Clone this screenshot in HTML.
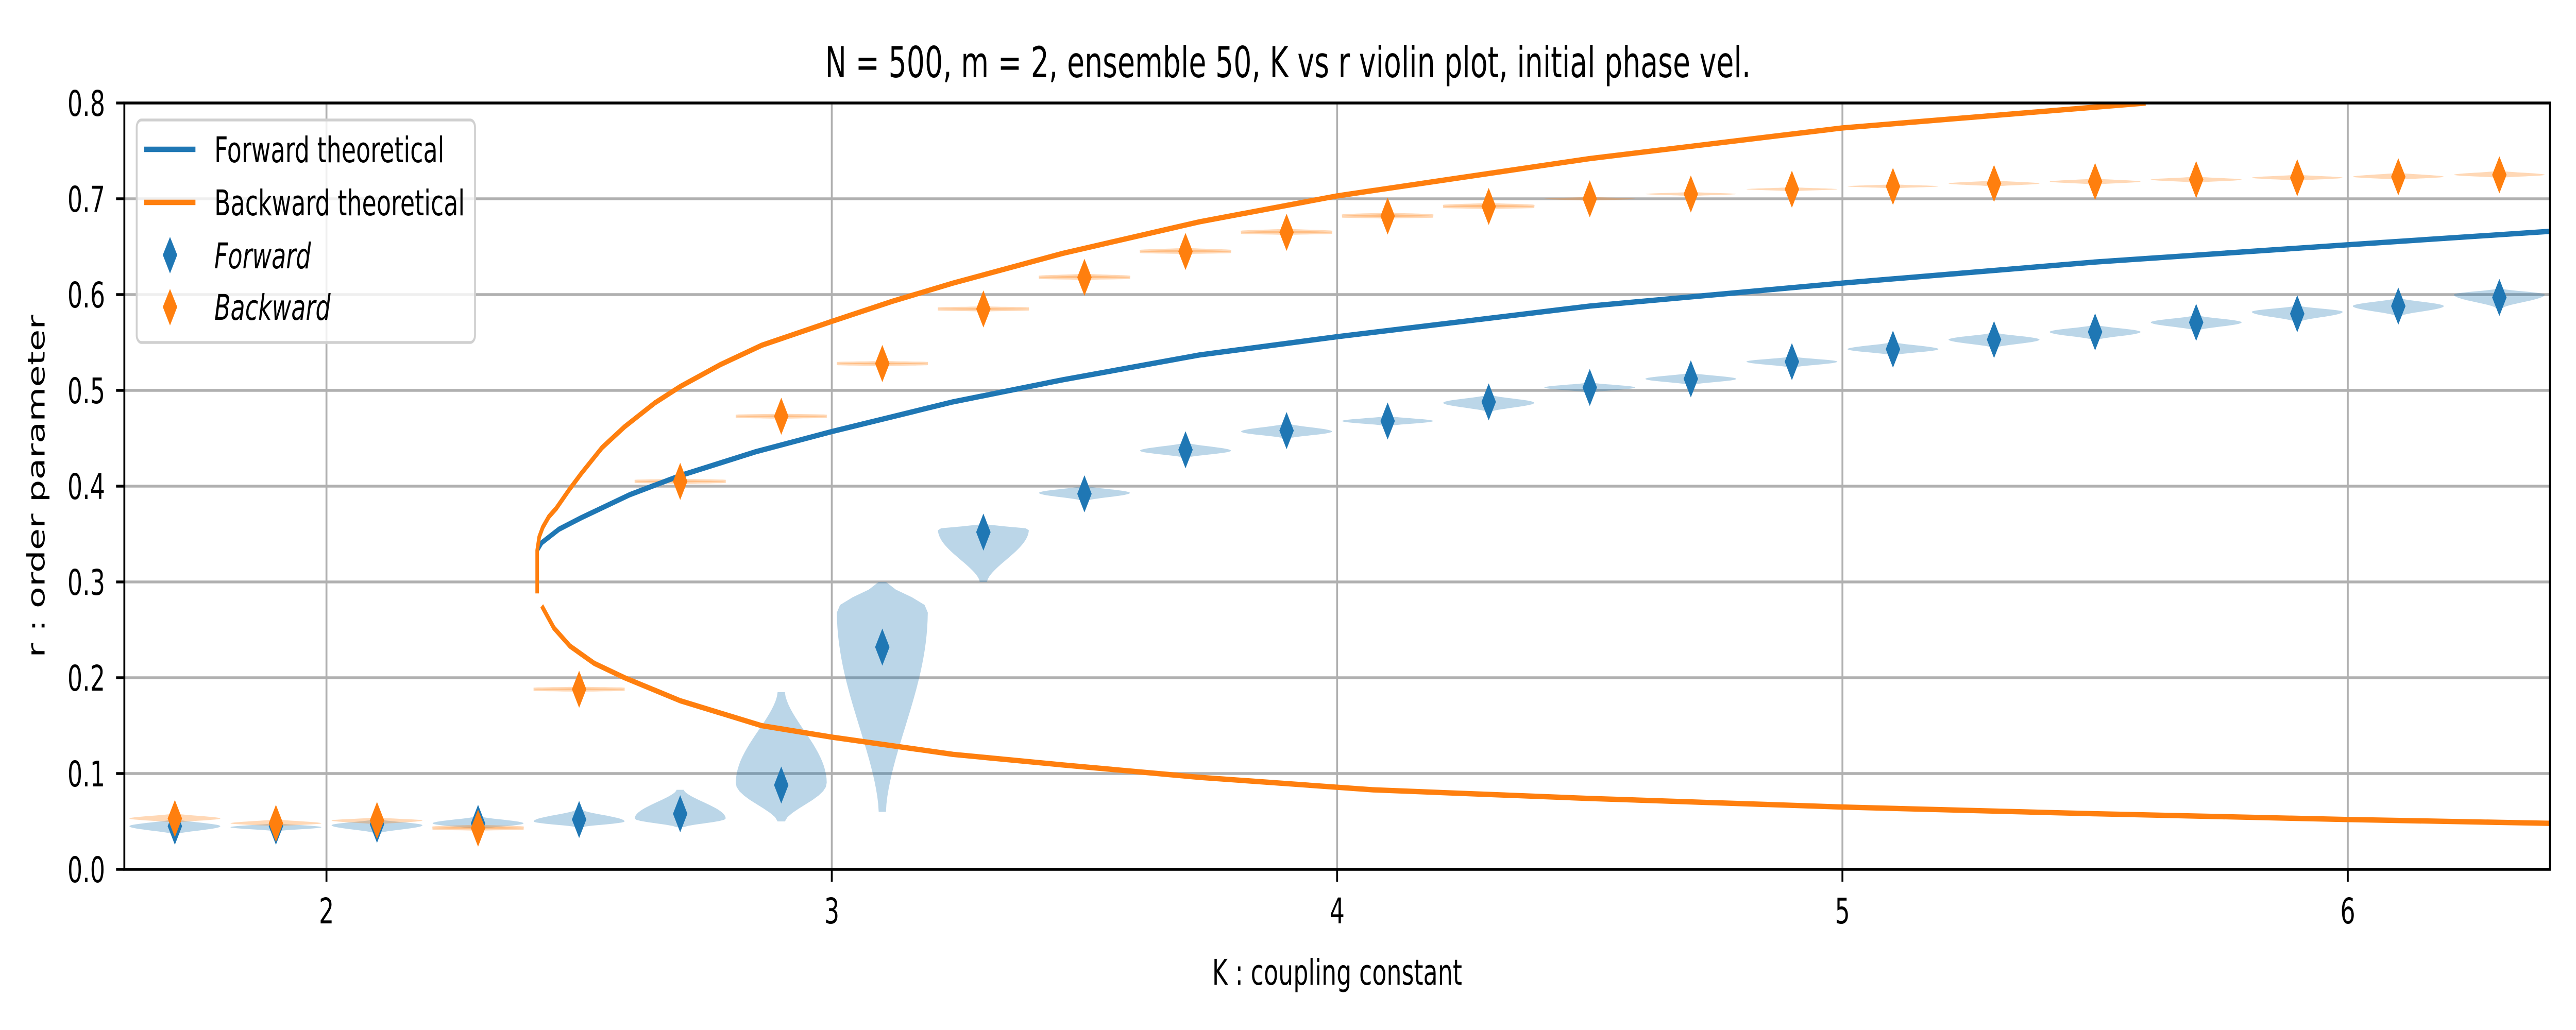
<!DOCTYPE html>
<html><head><meta charset="utf-8"><style>
html,body{margin:0;padding:0;background:#fff;width:100%;height:100%;overflow:hidden;}
svg{display:block;width:100vw;height:100vh;font-family:"DejaVu Sans","Liberation Sans",sans-serif;}
</style></head><body>
<svg id="chart" viewBox="0 0 7500 2000" preserveAspectRatio="none" xmlns="http://www.w3.org/2000/svg">
<rect width="7500" height="2000" fill="#fff"/>
<g id="grid"></g>
<g id="violins"></g>
<g id="curves"></g>
<g id="markers"></g>
<g id="axes"></g>
<text x="3750" y="150" font-size="83" text-anchor="middle">N = 500, m = 2, ensemble 50, K vs r violin plot, initial phase vel.</text>
<text x="3893" y="1912" font-size="69" text-anchor="middle">K : coupling constant</text>
<text x="0" y="0" font-size="69" text-anchor="middle" transform="translate(130,944) rotate(-90)">r : order parameter</text>
<g id="legend">
<rect x="398" y="233" width="985" height="432" rx="14" fill="#fff" fill-opacity="0.8" stroke="#d0d0d0" stroke-width="5.5"/>
<line x1="420" y1="290" x2="569" y2="290" stroke="#1f77b4" stroke-width="10.4"/>
<text x="624" y="315" font-size="69">Forward theoretical</text>
<line x1="420" y1="393" x2="569" y2="393" stroke="#ff7f0e" stroke-width="10.4"/>
<text x="624" y="418" font-size="69">Backward theoretical</text>
<path d="M495,460 L516,495 L495,531 L474,495 Z" fill="#1f77b4"/>
<text x="624" y="521" font-size="69" font-style="italic">Forward</text>
<path d="M495,561 L516,596 L495,632 L474,596 Z" fill="#ff7f0e"/>
<text x="624" y="621" font-size="69" font-style="italic">Backward</text>
</g>
</svg>
<script>
const xTicks = [2, 3, 4, 5, 6];
const yTicks = [0.0, 0.1, 0.2, 0.3, 0.4, 0.5, 0.6, 0.7, 0.8];
const yTickLabels = ["0.0","0.1","0.2","0.3","0.4","0.5","0.6","0.7","0.8"];
const kValues = [1.7,1.9,2.1,2.3,2.5,2.7,2.9,3.1,3.3,3.5,3.7,3.9,4.1,4.3,4.5,4.7,4.9,5.1,5.3,5.5,5.7,5.9,6.1,6.3];
const forwardMean = [0.045,0.045,0.047,0.048,0.052,0.058,0.088,0.232,0.352,0.392,0.438,0.458,0.468,0.488,0.503,0.512,0.530,0.543,0.553,0.561,0.571,0.580,0.588,0.597];
const forwardLo = [0.037,0.040,0.038,0.042,0.044,0.044,0.050,0.060,0.300,0.385,0.430,0.450,0.463,0.478,0.498,0.506,0.524,0.537,0.545,0.553,0.563,0.572,0.578,0.586];
const forwardHi = [0.052,0.048,0.052,0.055,0.062,0.083,0.185,0.300,0.360,0.400,0.445,0.465,0.473,0.495,0.508,0.518,0.535,0.550,0.560,0.568,0.578,0.588,0.596,0.606];
const forwardPeak = [0.045,0.044,0.046,0.048,0.050,0.053,0.090,0.270,0.355,0.393,0.437,0.457,0.468,0.487,0.503,0.512,0.530,0.543,0.553,0.561,0.571,0.582,0.588,0.600];
const backwardMean = [0.053,0.048,0.051,0.043,0.188,0.405,0.473,0.528,0.585,0.618,0.645,0.665,0.682,0.692,0.700,0.705,0.710,0.713,0.716,0.718,0.720,0.722,0.723,0.725];
const backwardLo = [0.049,0.045,0.047,0.042,0.187,0.404,0.472,0.527,0.584,0.617,0.644,0.664,0.681,0.691,0.698,0.703,0.708,0.711,0.713,0.715,0.717,0.719,0.720,0.722];
const backwardHi = [0.058,0.052,0.054,0.045,0.189,0.406,0.474,0.529,0.586,0.620,0.647,0.667,0.684,0.694,0.702,0.707,0.712,0.715,0.719,0.721,0.723,0.725,0.727,0.729];
const forwardTheoryK = [2.417,2.426,2.46,2.504,2.60,2.70,2.85,3.0,3.24,3.457,3.728,4.0,4.5,5.0,5.5,6.0,6.4];
const forwardTheoryR = [0.333,0.341,0.355,0.367,0.391,0.411,0.436,0.457,0.488,0.511,0.537,0.556,0.588,0.612,0.634,0.652,0.666];
const backwardUpperK = [2.417,2.417,2.421,2.428,2.44,2.455,2.48,2.504,2.545,2.59,2.65,2.70,2.78,2.861,3.0,3.12,3.24,3.457,3.728,4.0,4.5,5.0,5.6];
const backwardUpperR = [0.288,0.333,0.347,0.357,0.368,0.377,0.396,0.413,0.440,0.462,0.487,0.504,0.527,0.547,0.572,0.593,0.612,0.643,0.676,0.703,0.742,0.774,0.800];
const backwardLowerK = [2.426,2.45,2.482,2.53,2.59,2.70,2.861,3.0,3.24,3.457,3.728,4.07,4.5,5.0,5.5,6.0,6.4];
const backwardLowerR = [0.275,0.252,0.233,0.215,0.200,0.176,0.150,0.138,0.120,0.109,0.096,0.083,0.074,0.065,0.058,0.052,0.048];

const NS = "http://www.w3.org/2000/svg";
const X0 = 362, X1 = 7424, Y0 = 1688, Y1 = 200;
const KMIN = 1.6, KMAX = 6.4, RMIN = 0, RMAX = 0.8;
function xs(k){ return X0 + (k - KMIN) / (KMAX - KMIN) * (X1 - X0); }
function ys(r){ return Y0 - (r - RMIN) / (RMAX - RMIN) * (Y0 - Y1); }
function mk(tag, attrs, parent){ const e = document.createElementNS(NS, tag); for (const a in attrs) e.setAttribute(a, attrs[a]); parent.appendChild(e); return e; }

const grid = document.getElementById('grid');
const axes = document.getElementById('axes');
xTicks.forEach(function(k){
  const g = mk('line', {x1: xs(k), x2: xs(k), y1: Y1, y2: Y0, stroke: '#b0b0b0', 'stroke-width': 5.5}, grid);
  
  
  const t = mk('line', {x1: xs(k), x2: xs(k), y1: Y0, y2: Y0 + 24, stroke: '#000', 'stroke-width': 5.5}, axes);
  
  
  const l = mk('text', {x: xs(k), y: 1793, 'font-size': 69, 'text-anchor': 'middle'}, axes);
  l.textContent = String(k);
  
  
});
yTicks.forEach(function(r, i){
  const g = mk('line', {x1: X0, x2: X1, y1: ys(r), y2: ys(r), stroke: '#b0b0b0', 'stroke-width': 5.5}, grid);
  
  
  const t = mk('line', {x1: X0 - 24, x2: X0, y1: ys(r), y2: ys(r), stroke: '#000', 'stroke-width': 5.5}, axes);
  
  
  const l = mk('text', {x: 306, y: ys(r) + 25, 'font-size': 69, 'text-anchor': 'end'}, axes);
  l.textContent = yTickLabels[i];
  
  
});
const frame = mk('rect', {x: X0, y: Y1, width: X1 - X0, height: Y0 - Y1, fill: 'none', stroke: '#000', 'stroke-width': 5.5}, axes);



const violins = document.getElementById('violins');
function violin(k, lo, hi, peak, color, name){
  const hw = 0.09;
  const n = 30, left = [], right = [];
  const p = hi > lo ? Math.min(0.95, Math.max(0.05, (peak - lo) / (hi - lo))) : 0.5;
  for (let i = 0; i <= n; i++){
    const t = i / n;
    const b = t <= p ? Math.sin(Math.PI / 2 * t / p) : Math.cos(Math.PI / 2 * (t - p) / (1 - p));
    const w = hw * (0.08 + 0.92 * Math.pow(Math.max(b, 0), 1.6));
    const r = lo + t * (hi - lo);
    right.push(xs(k + w).toFixed(1) + ',' + ys(r).toFixed(1));
    left.unshift(xs(k - w).toFixed(1) + ',' + ys(r).toFixed(1));
  }
  const minH = 6;
  const path = mk('path', {d: 'M' + right.join(' L') + ' L' + left.join(' L') + ' Z', fill: color, 'fill-opacity': 0.3, stroke: color, 'stroke-opacity': 0.3, 'stroke-width': (ys(lo) - ys(hi) < minH ? minH : 0)}, violins);
  
  
}
kValues.forEach(function(k, i){
  violin(k, forwardLo[i], forwardHi[i], forwardPeak[i], '#1f77b4', 'forward-violin');
  violin(k, backwardLo[i], backwardHi[i], backwardMean[i], '#ff7f0e', 'backward-violin');
});

const curves = document.getElementById('curves');
function curve(ks, rs, color, name){
  const pts = ks.map(function(k, i){ return xs(k).toFixed(1) + ',' + ys(rs[i]).toFixed(1); });
  const c = mk('polyline', {points: pts.join(' '), fill: 'none', stroke: color, 'stroke-width': 10.4, 'stroke-linejoin': 'round'}, curves);
  
  
}
const clip = mk('clipPath', {id: 'plotclip'}, document.getElementById('chart'));
mk('rect', {x: X0, y: Y1, width: X1 - X0, height: Y0 - Y1}, clip);
curves.setAttribute('clip-path', 'url(#plotclip)');
curve(forwardTheoryK, forwardTheoryR, '#1f77b4', 'forward-theoretical-line');
curve(backwardUpperK, backwardUpperR, '#ff7f0e', 'backward-theoretical-upper-line');
curve(backwardLowerK, backwardLowerR, '#ff7f0e', 'backward-theoretical-lower-line');

const markers = document.getElementById('markers');
function diamond(k, r, color, name){
  const x = xs(k), y = ys(r);
  const d = mk('path', {d: 'M' + x + ',' + (y - 36) + ' L' + (x + 21) + ',' + y + ' L' + x + ',' + (y + 36) + ' L' + (x - 21) + ',' + y + ' Z', fill: color}, markers);
  
  
}
kValues.forEach(function(k, i){
  diamond(k, forwardMean[i], '#1f77b4', 'forward-marker');
  diamond(k, backwardMean[i], '#ff7f0e', 'backward-marker');
});
</script>
</body></html>
